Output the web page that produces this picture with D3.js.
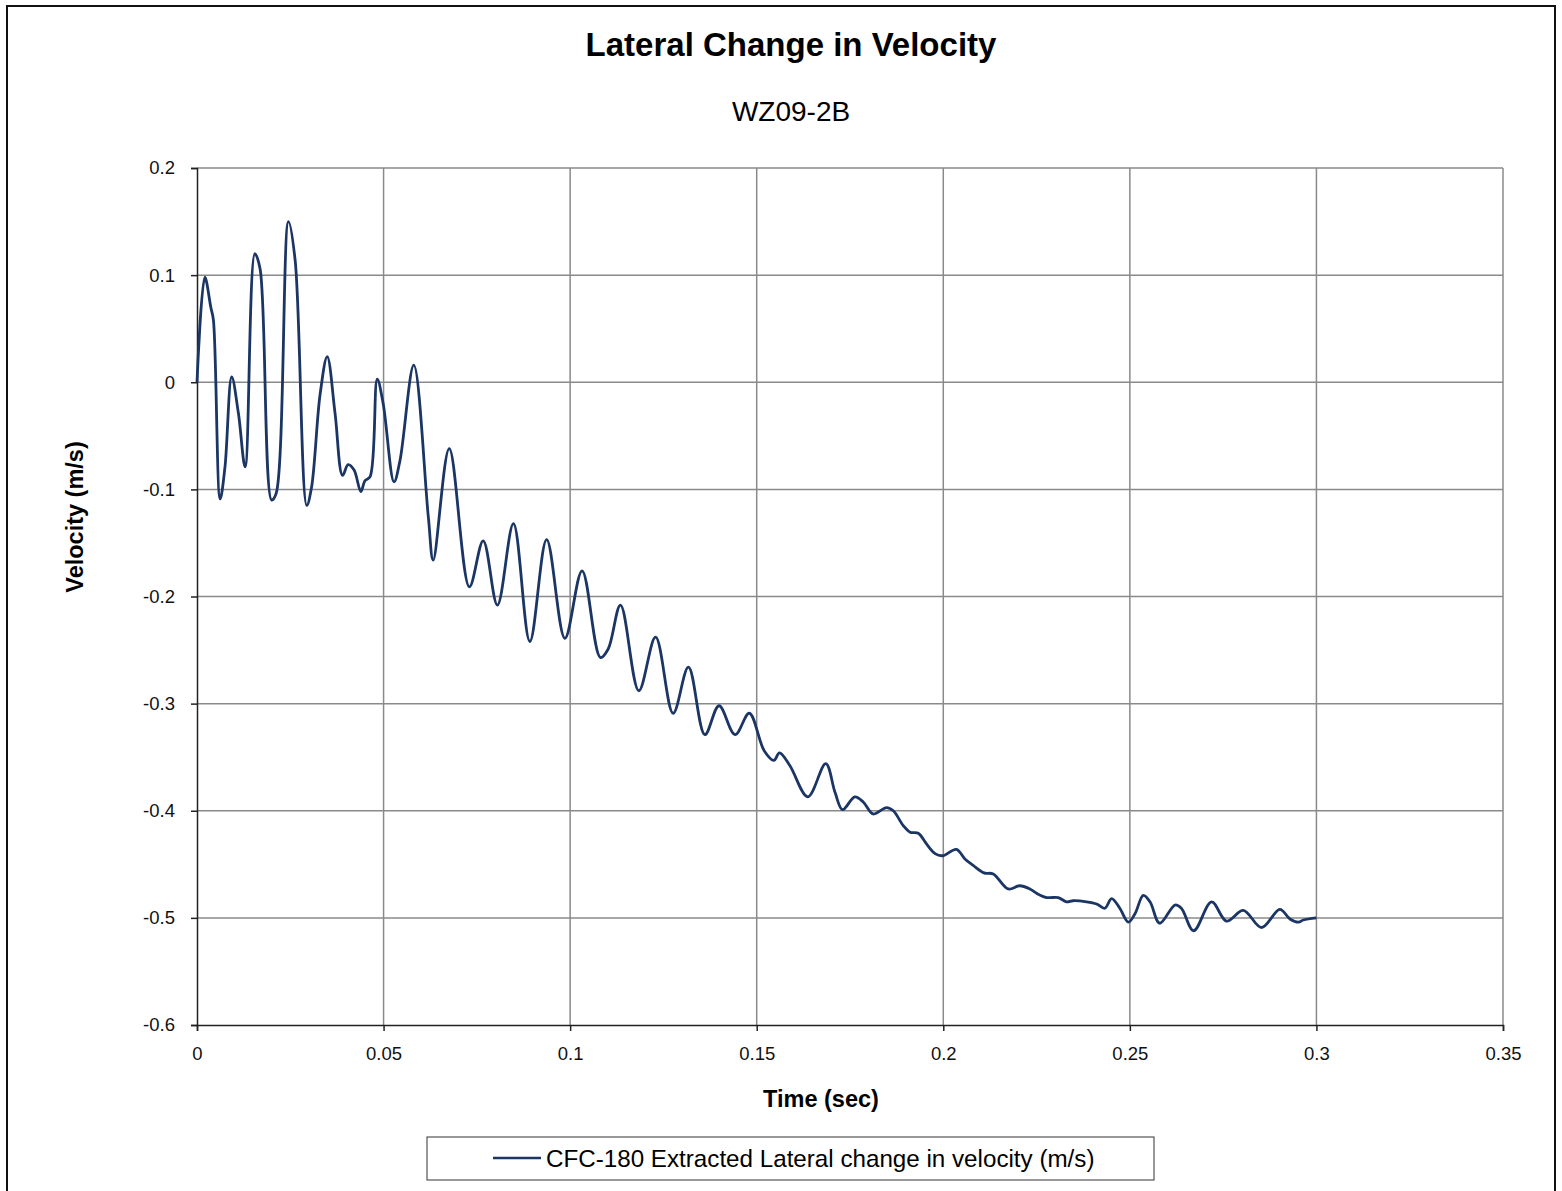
<!DOCTYPE html>
<html lang="en">
<head>
  <meta charset="UTF-8" />
  <title>Lateral Change in Velocity</title>
  <script src="https://d3js.org/d3.v7.min.js"></script>
  <style>
    body { margin: 0; background: #fff; font-family: "Liberation Sans", Arial, sans-serif; }
    .grid line { stroke: #8a8a8a; stroke-width: 1.5px; }
    .tick text { font-size: 18.5px; fill: #111; font-family: "Liberation Sans", Arial, sans-serif; }
    .series { fill: none; stroke: #1b3565; stroke-width: 2.8px; }
  </style>
</head>
<body>
<svg id="chart"></svg>
<script>
  // time (sec) and lateral velocity change (m/s)
  const timeSec = [
    0, 0.0021, 0.0037, 0.0044, 0.0062, 0.0075, 0.0093, 0.0111, 0.0129, 0.0155, 0.0169,
    0.0200, 0.0212, 0.0245, 0.0263, 0.0294, 0.0307, 0.0330, 0.0349, 0.0370, 0.0390,
    0.0405, 0.0421, 0.0439, 0.0450, 0.0464, 0.0483, 0.0499, 0.0528, 0.0544, 0.0581,
    0.0620, 0.0633, 0.0676, 0.0730, 0.0767, 0.0805, 0.0848, 0.0892, 0.0937, 0.0986,
    0.1032, 0.1081, 0.1102, 0.1135, 0.1184, 0.1229, 0.1276, 0.1317, 0.1361, 0.1399,
    0.1442, 0.1480, 0.1520, 0.1546, 0.1561, 0.1589, 0.1637, 0.1685, 0.1710, 0.1730,
    0.1763, 0.1786, 0.1812, 0.1848, 0.1866, 0.1893, 0.1911, 0.1933, 0.1955, 0.1978,
    0.1998, 0.2035, 0.2058, 0.2080, 0.2109, 0.2134, 0.2174, 0.2205, 0.2232, 0.2250,
    0.2277, 0.2308, 0.2330, 0.2348, 0.2384, 0.2411, 0.2433, 0.2451, 0.2473, 0.2496,
    0.2514, 0.2536, 0.2554, 0.2580, 0.2621, 0.2638, 0.2671, 0.2719, 0.2759, 0.2804,
    0.2853, 0.2902, 0.2929, 0.2952, 0.2965, 0.3000
  ];
  const velocity = [
    0, 0.098, 0.070, 0.058, -0.109, -0.079, 0.005, -0.029, -0.079, 0.120, 0.106,
    -0.110, -0.104, 0.150, 0.114, -0.115, -0.098, -0.011, 0.024, -0.029, -0.087,
    -0.077, -0.082, -0.102, -0.092, -0.088, 0.003, -0.020, -0.093, -0.073, 0.016,
    -0.126, -0.166, -0.062, -0.191, -0.148, -0.208, -0.132, -0.242, -0.147, -0.239,
    -0.176, -0.257, -0.249, -0.208, -0.288, -0.238, -0.309, -0.266, -0.329, -0.302,
    -0.329, -0.309, -0.344, -0.353, -0.346, -0.358, -0.387, -0.356, -0.383, -0.399,
    -0.387, -0.392, -0.403, -0.397, -0.400, -0.414, -0.420, -0.421, -0.431, -0.440,
    -0.442, -0.436, -0.445, -0.451, -0.458, -0.459, -0.473, -0.470, -0.473, -0.477,
    -0.481, -0.481, -0.485, -0.484, -0.485, -0.487, -0.491, -0.482, -0.491, -0.504,
    -0.496, -0.479, -0.485, -0.505, -0.488, -0.491, -0.512, -0.485, -0.503, -0.493,
    -0.509, -0.492, -0.501, -0.504, -0.502, -0.500
  ];
  const xTicks = [0, 0.05, 0.1, 0.15, 0.2, 0.25, 0.3, 0.35];
  const yTicks = [0.2, 0.1, 0, -0.1, -0.2, -0.3, -0.4, -0.5, -0.6];
  const seriesName = "CFC-180 Extracted Lateral change in velocity (m/s)";

  const W = 1562, H = 1191;
  const plot = { left: 197, top: 168, right: 1503, bottom: 1025 };

  const svg = d3.select("#chart").attr("width", W).attr("height", H);

  svg.append("rect")
     .attr("x", 7).attr("y", 6)
     .attr("width", 1548).attr("height", 1195)
     .attr("fill", "#fff").attr("stroke", "#111").attr("stroke-width", 2);

  const x = d3.scaleLinear().domain([0, 0.35]).range([plot.left, plot.right]);
  const y = d3.scaleLinear().domain([-0.6, 0.2]).range([plot.bottom, plot.top]);

  // grid
  const grid = svg.append("g").attr("class", "grid");
  grid.selectAll("line.v").data(xTicks.slice(1)).join("line")
      .attr("x1", d => x(d)).attr("x2", d => x(d))
      .attr("y1", plot.top).attr("y2", plot.bottom);
  grid.selectAll("line.h").data(yTicks.slice(0, -1)).join("line")
      .attr("x1", plot.left).attr("x2", plot.right)
      .attr("y1", d => y(d)).attr("y2", d => y(d));

  // axes
  const xAxis = svg.append("g")
     .attr("transform", `translate(0,${plot.bottom})`)
     .call(d3.axisBottom(x).tickValues(xTicks).tickSize(6).tickPadding(16)
       .tickFormat(d => d === 0 ? "0" : String(+d.toFixed(2))));
  const yAxis = svg.append("g")
     .attr("transform", `translate(${plot.left},0)`)
     .call(d3.axisLeft(y).tickValues(yTicks).tickSize(6).tickPadding(16)
       .tickFormat(d => d === 0 ? "0" : String(+d.toFixed(1))));
  [xAxis, yAxis].forEach(a => {
    a.select(".domain").attr("stroke", "#222").attr("stroke-width", 1.5);
    a.selectAll(".tick line").attr("stroke", "#222").attr("stroke-width", 1.5);
  });

  // series
  const pts = timeSec.map((t, i) => [t, velocity[i]]);
  svg.append("path")
     .datum(pts)
     .attr("class", "series")
     .attr("d", d3.line().x(d => x(d[0])).y(d => y(d[1])).curve(d3.curveCatmullRom.alpha(0.5)));

  // titles
  svg.append("text").attr("x", 791).attr("y", 56)
     .attr("text-anchor", "middle").attr("font-size", 33).attr("font-weight", "bold")
     .text("Lateral Change in Velocity");
  svg.append("text").attr("x", 791).attr("y", 121)
     .attr("text-anchor", "middle").attr("font-size", 28)
     .text("WZ09-2B");
  svg.append("text").attr("x", 821).attr("y", 1107)
     .attr("text-anchor", "middle").attr("font-size", 23.5).attr("font-weight", "bold")
     .text("Time (sec)");
  svg.append("text")
     .attr("transform", "translate(83,517) rotate(-90)")
     .attr("text-anchor", "middle").attr("font-size", 23.5).attr("font-weight", "bold")
     .text("Velocity (m/s)");

  // legend
  const lg = svg.append("g");
  lg.append("rect").attr("x", 427).attr("y", 1137).attr("width", 727).attr("height", 43)
    .attr("fill", "#fff").attr("stroke", "#333").attr("stroke-width", 1);
  lg.append("line").attr("x1", 493).attr("x2", 541).attr("y1", 1158).attr("y2", 1158)
    .attr("stroke", "#1b3565").attr("stroke-width", 2.6);
  lg.append("text").attr("x", 546).attr("y", 1167).attr("font-size", 24.2)
    .text(seriesName);
</script>
</body>
</html>
